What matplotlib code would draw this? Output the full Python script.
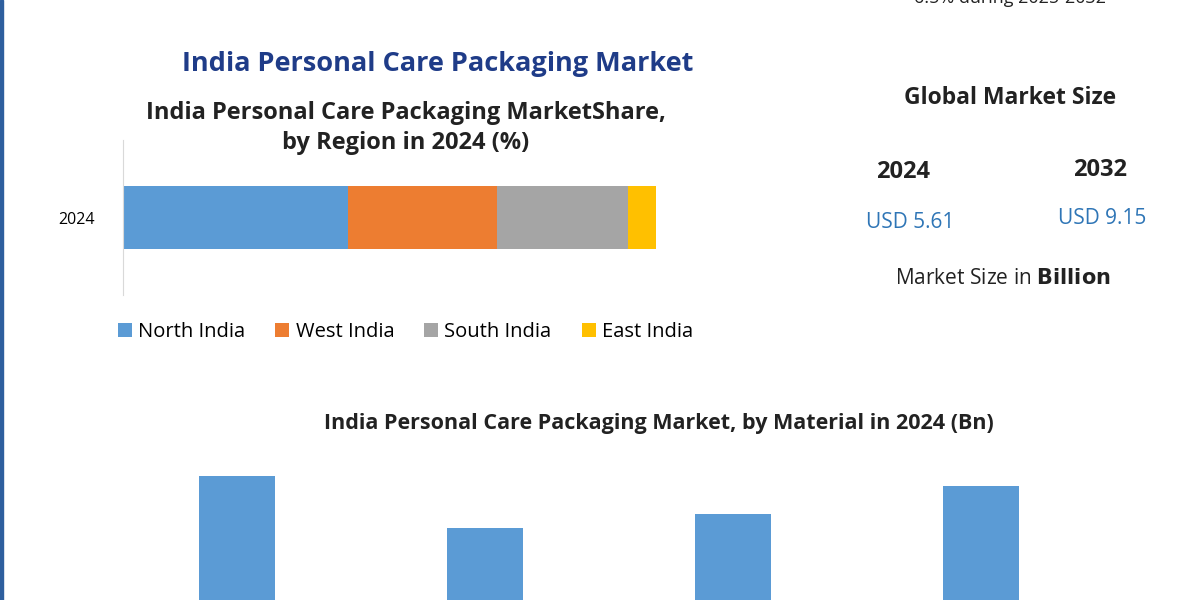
import matplotlib.pyplot as plt
from matplotlib.patches import Rectangle

REGIONS = ["North India", "West India", "South India", "East India"]
REGION_SHARE = [42.2, 28.0, 24.6, 5.3]
REGION_COLORS = ["#5b9bd5", "#ed7d31", "#a5a5a5", "#ffc000"]

MATERIALS = ["Plastic", "Glass", "Metal", "Paper"]
MATERIAL_VALUES = [1.72, 1.32, 1.43, 1.65]

TITLE_BLUE = "#1f3c88"
FONT = ["Open Sans", "DejaVu Sans"]
plt.rcParams["font.family"] = FONT

fig = plt.figure(figsize=(12, 6), dpi=100)
W, H = 1200, 600


def fx(x):
    return x / W


def fy(y):
    return 1 - y / H


# left border strip
fig.patches.append(Rectangle((0, 0), fx(3), 1, transform=fig.transFigure,
                             color="#2e5f9e", zorder=5))

fig.text(fx(1010), fy(-2), "6.5% during 2025-2032", ha="center", va="center",
         fontsize=13, color="#222222")
fig.text(fx(438), fy(64), "India Personal Care Packaging Market", ha="center",
         va="center", fontsize=19.5, fontweight="bold", color=TITLE_BLUE)
fig.text(fx(406), fy(128), "India Personal Care Packaging MarketShare,\nby Region in 2024 (%)",
         ha="center", va="center", fontsize=17, fontweight="bold",
         color="#222222", linespacing=1.35)

# stacked region bar
ax1 = fig.add_axes([fx(123), fy(295), fx(656) - fx(123), fy(140) - fy(295)])
left = 0
for name, val, col in zip(REGIONS, REGION_SHARE, REGION_COLORS):
    ax1.barh(0, val, left=left, height=0.49, color=col, label=name)
    left += val
ax1.set_xlim(0, sum(REGION_SHARE))
ax1.set_ylim(-0.6, 0.6)
ax1.set_yticks([0])
ax1.set_yticklabels(["2024"], fontsize=11.5)
ax1.tick_params(axis="y", length=0, pad=20)
ax1.set_xticks([])
for s in ["top", "right", "bottom"]:
    ax1.spines[s].set_visible(False)
ax1.spines["left"].set_color("#d9d9d9")
ax1.legend(loc="upper center", bbox_to_anchor=(0.53, -0.06), ncol=4, frameon=False,
           fontsize=14.5, handlelength=0.7, handleheight=0.7, columnspacing=1.5,
           handletextpad=0.3)

# global market size panel
fig.text(fx(1010), fy(98), "Global Market Size", ha="center", va="center",
         fontsize=16.5, fontweight="bold", color="#222222")
fig.text(fx(903), fy(172), "2024", ha="center", va="center", fontsize=17,
         fontweight="bold", color="#222222")
fig.text(fx(1100), fy(170), "2032", ha="center", va="center", fontsize=17,
         fontweight="bold", color="#222222")
fig.text(fx(910), fy(223), "USD 5.61", ha="center", va="center", fontsize=15,
         color="#2e75b6")
fig.text(fx(1102), fy(219), "USD 9.15", ha="center", va="center", fontsize=15,
         color="#2e75b6")
fig.text(fx(1003), fy(278), "Market Size in $\\bf{Billion}$", ha="center",
         va="center", fontsize=15, color="#222222")

fig.text(fx(659), fy(424), "India Personal Care Packaging Market, by Material in 2024 (Bn)",
         ha="center", va="center", fontsize=15.5, fontweight="bold", color="#222222")

# material bars (extend below the canvas)
ax2 = fig.add_axes([fx(113), fy(700), fx(1105) - fx(113), fy(440) - fy(700)])
ax2.bar(range(len(MATERIALS)), MATERIAL_VALUES, width=0.31, color="#5b9bd5")
ax2.set_xlim(-0.5, len(MATERIALS) - 0.5)
ax2.set_ylim(0, 2)
ax2.set_xticks(range(len(MATERIALS)))
ax2.set_xticklabels(MATERIALS)
ax2.set_yticks([])
ax2.axis("off")

fig.savefig("out.png", dpi=100)
